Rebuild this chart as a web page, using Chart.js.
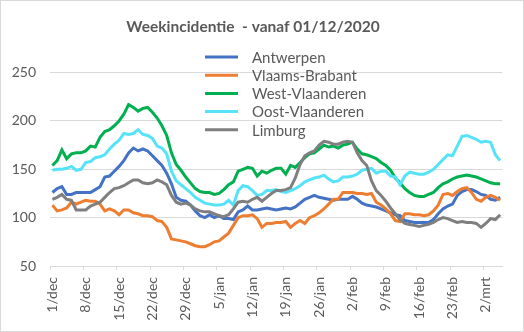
<!DOCTYPE html>
<html>
<head>
<meta charset="utf-8">
<script src="https://cdn.jsdelivr.net/npm/chart.js@4.4.1/dist/chart.umd.min.js"></script>
<style>
  body { margin: 0; background: #fff; }
</style>
</head>
<body>
<canvas id="grafiek" width="524" height="332"></canvas>
<script>
"use strict";

// datums: 1/dec 2020 t.e.m. 5/mrt 2021
const maanden = [["dec", 31], ["jan", 31], ["feb", 28], ["mrt", 5]];
const dagen = [];
maanden.forEach(([m, n]) => { for (let d = 1; d <= n; d++) dagen.push(d + "/" + m); });

const yTicks = [50, 100, 150, 200, 250];

const antwerpen = [126,130,132,124,124,126,126,126,126,129,132,142,143,148,153,159,167,172,169,171,169,164,159,154,146,
  135,121,118,117,113,107,102,100,103,100,102,99,99,98,106,108,112,108,108,109,110,109,108,
  109,110,109,111,115,119,121,123,121,120,119,118,119,119,119,122,119,115,113,112,111,109,107,105,
  103,102,97,96,95,95,95,95,98,104,109,112,114,123,127,129,129,127,124,123,119,118,121];

const vlaamsBrabant = [113,107,108,110,116,114,116,118,117,117,114,107,109,107,103,108,108,105,104,102,102,101,97,96,90,
  78,77,76,75,73,71,70,70,72,75,76,80,84,92,100,102,102,103,99,90,94,94,95,
  95,96,90,94,97,94,100,102,105,109,114,119,119,126,126,126,125,125,124,125,116,113,109,104,
  97,96,104,104,103,103,102,103,107,113,124,125,123,127,130,131,126,119,117,121,123,121,118];

const westVlaanderen = [154,159,170,161,166,167,167,169,174,173,183,189,191,195,200,207,217,214,210,213,214,209,203,195,185,
  167,155,149,142,136,130,127,126,126,124,125,129,134,137,148,150,152,151,143,148,146,149,151,
  151,145,154,152,157,162,166,167,171,175,173,174,172,175,176,178,171,166,165,163,161,157,154,149,
  141,136,130,126,123,122,122,124,126,131,135,137,140,142,143,144,143,142,140,138,136,135,135];

const oostVlaanderen = [149,150,150,151,153,149,150,157,158,162,163,165,171,176,180,187,186,187,191,186,185,182,174,172,166,
  148,138,134,130,126,121,118,115,114,113,113,114,118,113,128,133,132,128,123,124,128,128,129,
  127,126,128,130,133,137,139,141,142,144,140,137,138,142,142,143,145,149,150,151,146,148,148,143,
  142,134,143,147,146,145,145,147,150,155,160,165,164,174,184,185,183,181,178,179,178,165,159];

const limburg = [119,121,124,119,118,108,108,108,112,114,116,121,126,130,131,133,136,139,139,136,135,136,139,137,134,
  123,116,114,115,113,109,107,106,106,104,102,101,103,109,116,117,116,119,121,117,121,125,128,
  128,129,131,141,155,164,167,169,175,179,178,176,176,178,179,178,167,159,154,138,128,123,117,110,
  104,98,94,93,92,91,92,93,95,98,100,99,97,95,96,95,95,94,90,94,99,98,103];

const provincies = ["Antwerpen", "Vlaams-Brabant", "West-Vlaanderen", "Oost-Vlaanderen", "Limburg"];
const kleuren = ["#4472C4", "#ED7D31", "#00B050", "#57E3F7", "#7F7F7F"];
const reeksen = [antwerpen, vlaamsBrabant, westVlaanderen, oostVlaanderen, limburg];

const tekstKleur = "#595959";
const rasterKleur = "#d9d9d9";
const lettertype = "Lato";

// rand rond de hele grafiek (zoals in excel)
const kader = {
  id: "kader",
  beforeDraw(chart) {
    const c = chart.ctx;
    c.save();
    c.fillStyle = "#fff";
    c.fillRect(0, 0, chart.width, chart.height);
    c.strokeStyle = rasterKleur;
    c.lineWidth = 1;
    c.strokeRect(0.5, 0.5, chart.width - 1, chart.height - 1);
    c.restore();
  }
};

// legende binnen het tekengebied
const legende = {
  id: "legende",
  afterDraw(chart) {
    const c = chart.ctx;
    c.save();
    c.font = "15px " + lettertype;
    c.textBaseline = "middle";
    chart.data.datasets.forEach((ds, i) => {
      const y = 57 + i * 18.2;
      c.strokeStyle = ds.borderColor;
      c.lineWidth = 3;
      c.beginPath();
      c.moveTo(205, y);
      c.lineTo(238, y);
      c.stroke();
      c.fillStyle = tekstKleur;
      c.fillText(ds.label, 252, y + 1);
    });
    c.restore();
  }
};

new Chart(document.getElementById("grafiek"), {
  type: "line",
  data: {
    labels: dagen,
    datasets: reeksen.map((r, i) => ({
      label: provincies[i],
      data: r,
      borderColor: kleuren[i],
      backgroundColor: kleuren[i],
      borderWidth: 3,
      pointRadius: 0,
      tension: 0,
      order: reeksen.length - 1 - i
    }))
  },
  options: {
    responsive: false,
    animation: false,
    layout: { padding: { left: 0, right: 18, top: 0, bottom: 0 } },
    plugins: {
      legend: { display: false },
      tooltip: { enabled: false },
      title: {
        display: true,
        text: "Weekincidentie  - vanaf 01/12/2020",
        color: tekstKleur,
        font: { family: lettertype, size: 15.5, weight: "bold" },
        padding: { top: 18, bottom: 36 }
      }
    },
    scales: {
      x: {
        offset: true,
        grid: {
          offset: true,
          drawOnChartArea: false,
          tickLength: 4,
          tickColor: ctx => (ctx.index % 7 === 0 ? rasterKleur : "rgba(0,0,0,0)")
        },
        border: { color: rasterKleur },
        ticks: {
          autoSkip: false,
          maxRotation: 90,
          minRotation: 90,
          padding: 7,
          color: tekstKleur,
          font: { family: lettertype, size: 14 },
          callback: function (val, idx) { return idx % 7 === 0 ? this.getLabelForValue(val) : ""; }
        },
        afterFit: s => { s.height = 66; }
      },
      y: {
        min: yTicks[0],
        max: yTicks[yTicks.length - 1],
        grid: { color: rasterKleur, drawTicks: false },
        border: { display: false },
        ticks: {
          stepSize: 50,
          padding: 14,
          color: tekstKleur,
          font: { family: lettertype, size: 14 }
        },
        afterFit: s => { s.width = 50; }
      }
    }
  },
  plugins: [kader, legende]
});
</script>
</body>
</html>
